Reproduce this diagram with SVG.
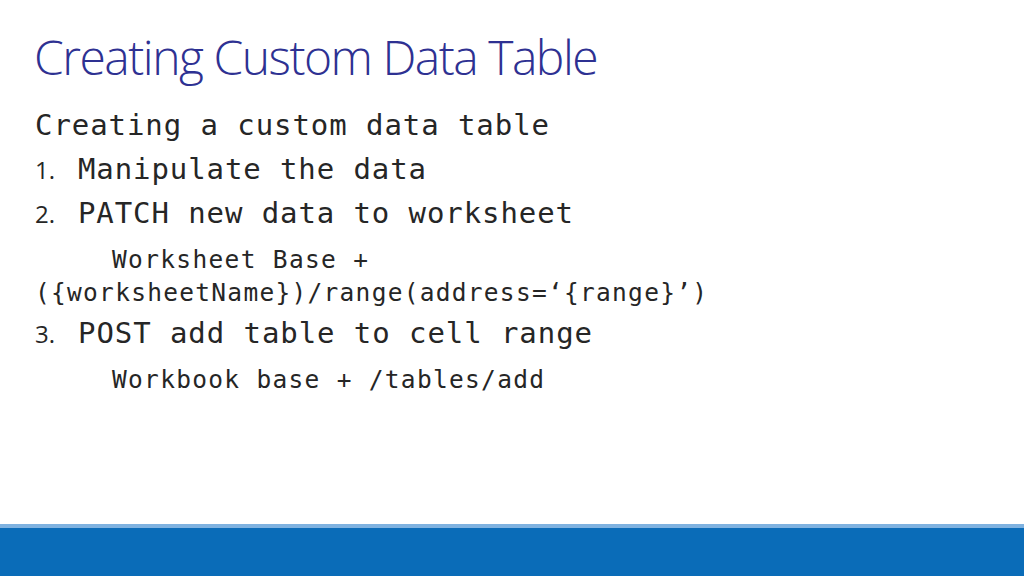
<svg xmlns="http://www.w3.org/2000/svg" width="1024" height="576" viewBox="0 0 1024 576">
<style>
.t{font-family:"Open Sans","Noto Sans",sans-serif;font-weight:300;font-size:48px;fill:#2e3192;letter-spacing:-1.5px}
.m{font-family:"DejaVu Sans Mono","Liberation Mono",monospace;fill:#262626}
.b{font-size:29px}
.s{font-size:24.5px}
.n{font-family:"Open Sans","Noto Sans",sans-serif;font-size:24px;fill:#262626}
</style>
<rect width="1024" height="576" fill="#fff"/>
<text class="t" x="34" y="75">Creating Custom Data Table</text>
<g id="body">
<text class="m b" x="35" y="135" textLength="514">Creating a custom data table</text>
<text class="n" x="35" y="179">1.</text>
<text class="m b" x="78" y="179" textLength="348">Manipulate the data</text>
<text class="n" x="35" y="223">2.</text>
<text class="m b" x="78" y="223" textLength="495">PATCH new data to worksheet</text>
<text class="m s" x="112" y="268" textLength="256">Worksheet Base +</text>
<text class="m s" x="35" y="301" textLength="672">({worksheetName})/range(address=‘{range}’)</text>
<text class="n" x="35" y="343">3.</text>
<text class="m b" x="78" y="343" textLength="514">POST add table to cell range</text>
<text class="m s" x="112" y="388" textLength="432">Workbook base + /tables/add</text>
</g>
<rect x="0" y="524" width="1024" height="4" fill="#7fb2e0"/>
<rect x="0" y="528" width="1024" height="48" fill="#0a6cb8"/>
</svg>
